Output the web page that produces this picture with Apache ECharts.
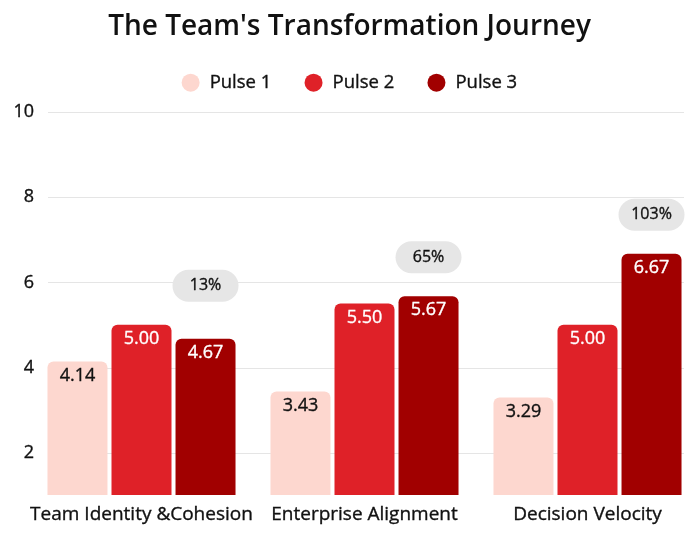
<!DOCTYPE html>
<html>
<head>
<meta charset="utf-8">
<script src="https://cdn.jsdelivr.net/npm/echarts@6/dist/echarts.min.js"></script>
<style>
  html, body { margin: 0; padding: 0; background: #fff; }
  #chart { width: 699px; height: 540px; }
</style>
</head>
<body>
<div id="chart"></div>
<script>
// chart data
const categories = ['Team Identity &Cohesion', 'Enterprise Alignment', 'Decision Velocity']
const pulse1 = [4.14, 3.43, 3.29]
const pulse2 = [5.0, 5.5, 5.0]
const pulse3 = [4.67, 5.67, 6.67]
const growthLabels = ['13%', '65%', '103%']
const yTicks = [2, 4, 6, 8, 10]

// badge sits above the tallest bar of each group
const groupTop = categories.map((c, i) => Math.max(pulse1[i], pulse2[i], pulse3[i]))
const badgeLift = groupTop.map((t, i) => +(t - pulse3[i]).toFixed(2))

const font = 'Open Sans'
const ink = '#111'
const colors = ['#fdd7cf', '#df2128', '#a10000']

// regular weight with a hairline stroke, to get a medium look
const medium = (color) => ({
  fontFamily: font,
  color: color,
  textBorderColor: color,
  textBorderWidth: 0.35
})

const chart = echarts.init(document.getElementById('chart'))

const barLabel = (color) => ({
  show: true,
  position: 'insideTop',
  distance: 5,
  fontSize: 18,
  ...medium(color),
  formatter: (p) => p.value.toFixed(2)
})

chart.setOption({
  animation: false,
  textStyle: { fontFamily: font },
  title: {
    text: "The Team's Transformation Journey",
    left: 'center',
    top: 8,
    textStyle: { fontFamily: font, fontSize: 28, fontWeight: 600, color: ink }
  },
  legend: {
    data: ['Pulse 1', 'Pulse 2', 'Pulse 3'],
    top: 68,
    left: 'center',
    icon: 'circle',
    itemWidth: 18,
    itemHeight: 18,
    itemGap: 33,
    textStyle: { fontSize: 18.5, ...medium(ink), padding: [0, 0, 0, 5] }
  },
  grid: [
    // grid for the value axis and gridlines
    { left: 48, right: 15, top: 112, height: 341, containLabel: false },
    // grid for the bars
    { left: 30, right: -3, top: 112, bottom: 45, containLabel: false }
  ],
  xAxis: [
    { type: 'category', gridIndex: 0, data: categories, show: false },
    {
      type: 'category',
      gridIndex: 1,
      data: categories,
      axisLine: { show: false },
      axisTick: { show: false },
      axisLabel: { interval: 0, fontSize: 19, ...medium(ink), margin: 10 }
    }
  ],
  yAxis: [
    {
      type: 'value',
      gridIndex: 0,
      min: yTicks[0],
      max: yTicks[yTicks.length - 1],
      interval: 2,
      axisLine: { show: false },
      axisTick: { show: false },
      axisLabel: { fontSize: 18, ...medium(ink), margin: 14 },
      splitLine: { lineStyle: { color: '#e5e5e5', width: 1 } }
    },
    {
      type: 'value',
      gridIndex: 1,
      min: 1,
      max: 10,
      show: false,
      splitLine: { show: false }
    }
  ],
  series: [
    {
      name: 'Pulse 1',
      type: 'bar',
      xAxisIndex: 1,
      yAxisIndex: 1,
      data: pulse1,
      barWidth: 60,
      barGap: '6.7%',
      itemStyle: { color: colors[0], borderRadius: [6, 6, 0, 0] },
      label: barLabel(ink)
    },
    {
      name: 'Pulse 2',
      type: 'bar',
      xAxisIndex: 1,
      yAxisIndex: 1,
      data: pulse2,
      barWidth: 60,
      barGap: '6.7%',
      itemStyle: { color: colors[1], borderRadius: [6, 6, 0, 0] },
      label: barLabel('#fff')
    },
    {
      name: 'Pulse 3',
      type: 'bar',
      xAxisIndex: 1,
      yAxisIndex: 1,
      stack: 'p3',
      data: pulse3,
      barWidth: 60,
      barGap: '6.7%',
      itemStyle: { color: colors[2], borderRadius: [6, 6, 0, 0] },
      label: barLabel('#fff')
    },
    {
      name: 'growth',
      type: 'bar',
      xAxisIndex: 1,
      yAxisIndex: 1,
      stack: 'p3',
      data: badgeLift,
      barWidth: 60,
      barGap: '6.7%',
      itemStyle: { color: 'rgba(0,0,0,0)' },
      label: {
        show: true,
        position: 'top',
        distance: 23,
        formatter: (p) => growthLabels[p.dataIndex],
        fontSize: 16,
        ...medium(ink),
        backgroundColor: '#e6e6e6',
        borderRadius: 16,
        width: 40,
        height: 18,
        lineHeight: 18,
        align: 'center',
        padding: [7, 13]
      }
    }
  ]
})
</script>
</body>
</html>
